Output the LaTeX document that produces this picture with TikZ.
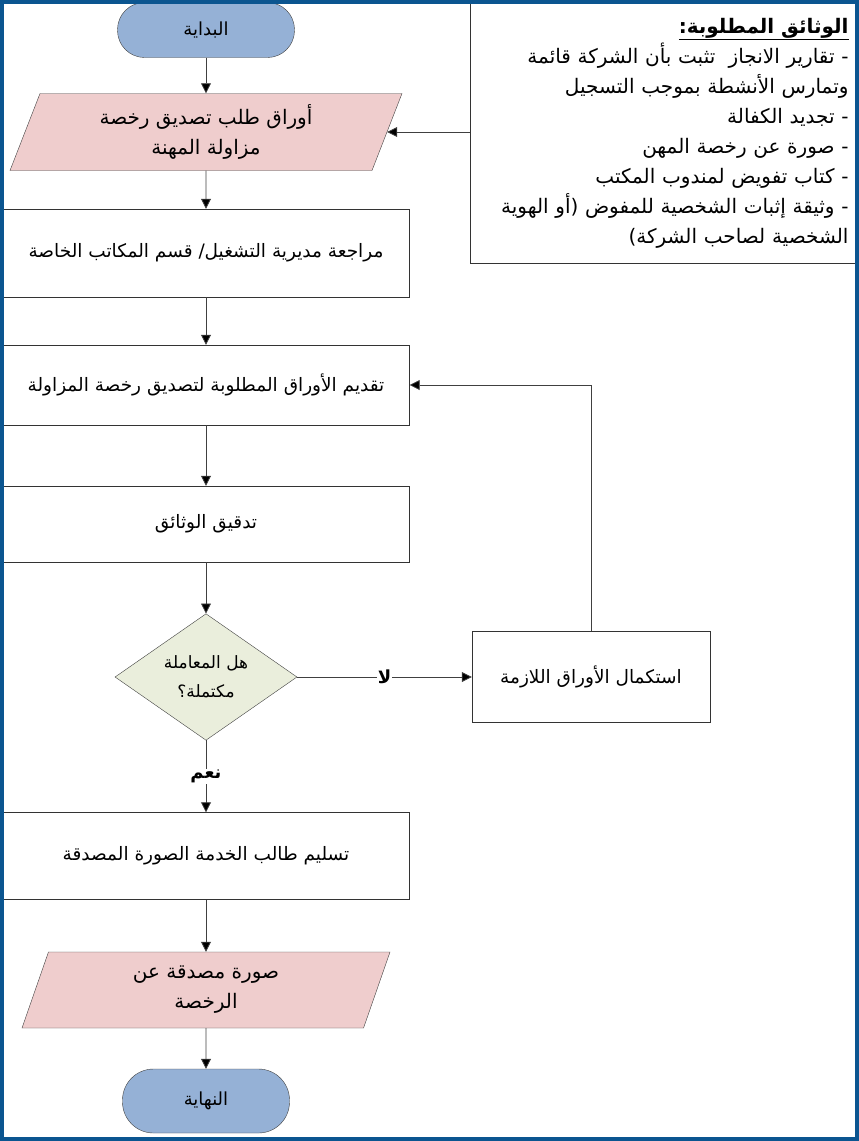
\documentclass[tikz,border=0pt]{standalone}
\usepackage{fontspec}
\setmainfont{DejaVu Sans}
\newfontfamily\arabicfont[Script=Arabic]{DejaVu Sans}
\TeXXeTstate=1
\usetikzlibrary{shapes.geometric,arrows.meta}
\definecolor{frameblue}{HTML}{0B5590}
\definecolor{termblue}{HTML}{95B1D6}
\definecolor{parapink}{HTML}{EFCDCD}
\definecolor{decgreen}{HTML}{EAEEDC}
\newcommand{\artext}[1]{{\arabicfont\beginR #1\endR}}

\begin{document}
\begin{tikzpicture}[x=1pt, y=-1pt,
  term/.style={rectangle, draw=black!75, fill=termblue, rounded corners=27pt,
               font=\fontsize{18}{22}\selectfont},
  io/.style={trapezium, trapezium left angle=64, trapezium right angle=116,
             trapezium stretches body, draw=black!75, fill=parapink,
             minimum height=77pt, align=center, font=\fontsize{20}{30}\selectfont},
  proc/.style={rectangle, draw=black!80, minimum height=88pt, align=center,
               font=\fontsize{18.5}{30}\selectfont},
  dec/.style={diamond, draw=black!75, fill=decgreen, minimum width=182pt,
              minimum height=124pt, inner sep=0pt, align=center,
              font=\fontsize{17}{29}\selectfont},
  lk/.style={draw=black!75, line width=0.8pt,
             -{Triangle[length=10pt, width=10pt, fill=black]}},
  ans/.style={fill=white, inner sep=1pt, font=\bfseries\fontsize{18}{22}\selectfont}]

\useasboundingbox (0,0) rectangle (859,1141);

%% main column
\node[term, minimum width=177pt, minimum height=55pt] (start) at (206,30) {\artext{البداية}};
\node[io, minimum width=392pt] (papers) at (206,132)
  {\artext{أوراق طلب تصديق رخصة}\\\artext{مزاولة المهنة}};
\node[proc, minimum width=407pt] (review) at (206,253)
  {\artext{مراجعة مديرية التشغيل/ قسم المكاتب الخاصة}};
\node[proc, minimum width=407pt, minimum height=80pt] (submit) at (206,385)
  {\artext{تقديم الأوراق المطلوبة لتصديق رخصة المزاولة}};
\node[proc, minimum width=407pt, minimum height=76pt] (check) at (206,524)
  {\artext{تدقيق الوثائق}};
\node[dec] (done) at (206,677)
  {\artext{هل المعاملة}\\\artext{مكتملة؟}};
\node[proc, minimum width=238pt, minimum height=91pt] (complete) at (591,677)
  {\artext{استكمال الأوراق اللازمة}};
\node[proc, minimum width=407pt, minimum height=87pt] (deliver) at (206,856)
  {\artext{تسليم طالب الخدمة الصورة المصدقة}};
\node[io, minimum width=368pt, minimum height=76pt] (copy) at (206,990)
  {\artext{صورة مصدقة عن}\\\artext{الرخصة}};
\node[term, minimum width=167pt, minimum height=64pt, rounded corners=31pt] (stop) at (206,1101)
  {\artext{النهاية}};

%% required documents
\node[rectangle, draw=black!80, minimum width=385pt, minimum height=260pt,
      text width=372pt, align=right, font=\fontsize{20}{30}\selectfont] (docs) at (662.5,133)
  {\underline{\artext{\bfseries الوثائق المطلوبة:}}\\
   \artext{- تقارير الانجاز\ \ تثبت بأن الشركة قائمة}\\
   \artext{وتمارس الأنشطة بموجب التسجيل}\\
   \artext{- تجديد الكفالة}\\
   \artext{- صورة عن رخصة المهن}\\
   \artext{- كتاب تفويض لمندوب المكتب}\\
   \artext{- وثيقة إثبات الشخصية للمفوض (أو الهوية}\\
   \artext{الشخصية لصاحب الشركة)}};

%% connectors
\draw[lk] (start) -- (papers);
\draw[lk] (papers) -- (review);
\draw[lk] (review) -- (submit);
\draw[lk] (submit) -- (check);
\draw[lk] (check) -- (done);
\draw[lk] (done) -- node[ans] {\artext{نعم}} (deliver);
\draw[lk] (done) -- node[ans] {\artext{لا}} (complete);
\draw[lk] (complete.north) |- (submit.east);
\draw[lk] (docs.west |- papers.east) -- (papers.east);
\draw[lk] (deliver) -- (copy);
\draw[lk] (copy) -- (stop);

%% frame
\draw[frameblue, line width=4pt] (2,2) rectangle (857,1139);
\end{tikzpicture}
\end{document}
